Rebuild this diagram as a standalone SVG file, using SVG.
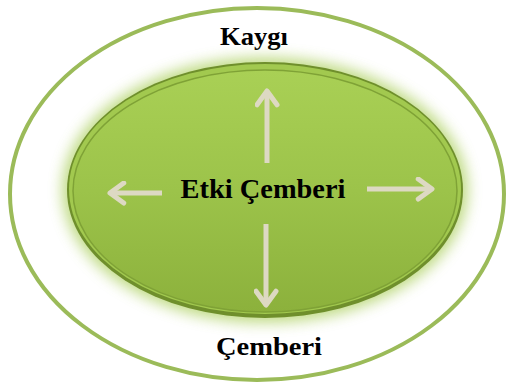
<svg xmlns="http://www.w3.org/2000/svg" width="506" height="385" viewBox="0 0 506 385">
<defs>
<linearGradient id="g" x1="0" y1="0" x2="0" y2="1">
<stop offset="0" stop-color="#a9d055"/>
<stop offset="0.5" stop-color="#9cc34a"/>
<stop offset="1" stop-color="#8cb13c"/>
</linearGradient>
<filter id="glow" x="-20%" y="-20%" width="140%" height="140%">
<feGaussianBlur stdDeviation="7"/>
</filter>
<marker id="ah" viewBox="0 0 10 10" refX="7" refY="5" markerWidth="5" markerHeight="5" orient="auto" markerUnits="strokeWidth">
<path d="M1.5,1 L7,5 L1.5,9" fill="none" stroke="#ddd9c3" stroke-width="2" stroke-linecap="round" stroke-linejoin="round"/>
</marker>
<style>
.t{font-family:"Liberation Serif","DejaVu Serif",serif;font-weight:bold;fill:#000;text-anchor:middle}
.a{stroke:#ddd9c3;stroke-width:5;fill:none;marker-end:url(#ah)}
</style>
</defs>
<rect width="506" height="385" fill="#fff"/>
<g id="outer">
<ellipse cx="257" cy="194" rx="247" ry="186" fill="#fff" stroke="#9bbb59" stroke-width="4"/>
<text class="t" x="254" y="45" font-size="25" textLength="68" lengthAdjust="spacingAndGlyphs">Kaygı</text>
<text class="t" x="269" y="355" font-size="25" textLength="106" lengthAdjust="spacingAndGlyphs">Çemberi</text>
</g>
<g id="inner">
<ellipse cx="265" cy="190" rx="203" ry="133" fill="#a6cc52" opacity="0.7" filter="url(#glow)"/>
<ellipse cx="265" cy="190" rx="198" ry="128" fill="#6f8f2c"/>
<ellipse cx="265" cy="189" rx="196" ry="125" fill="#a2c94f"/>
<ellipse cx="265" cy="191" rx="192" ry="121" fill="url(#g)" stroke="#7fa236" stroke-width="1.5"/>
<text class="t" x="263" y="198" font-size="27" textLength="165" lengthAdjust="spacingAndGlyphs">Etki Çemberi</text>
</g>
<g id="connectors">
<line class="a" x1="267" y1="163" x2="267" y2="91"/>
<line class="a" x1="162" y1="193" x2="110" y2="193"/>
<line class="a" x1="367" y1="189" x2="432" y2="189"/>
<line class="a" x1="266" y1="224" x2="266" y2="305"/>
</g>
</svg>
